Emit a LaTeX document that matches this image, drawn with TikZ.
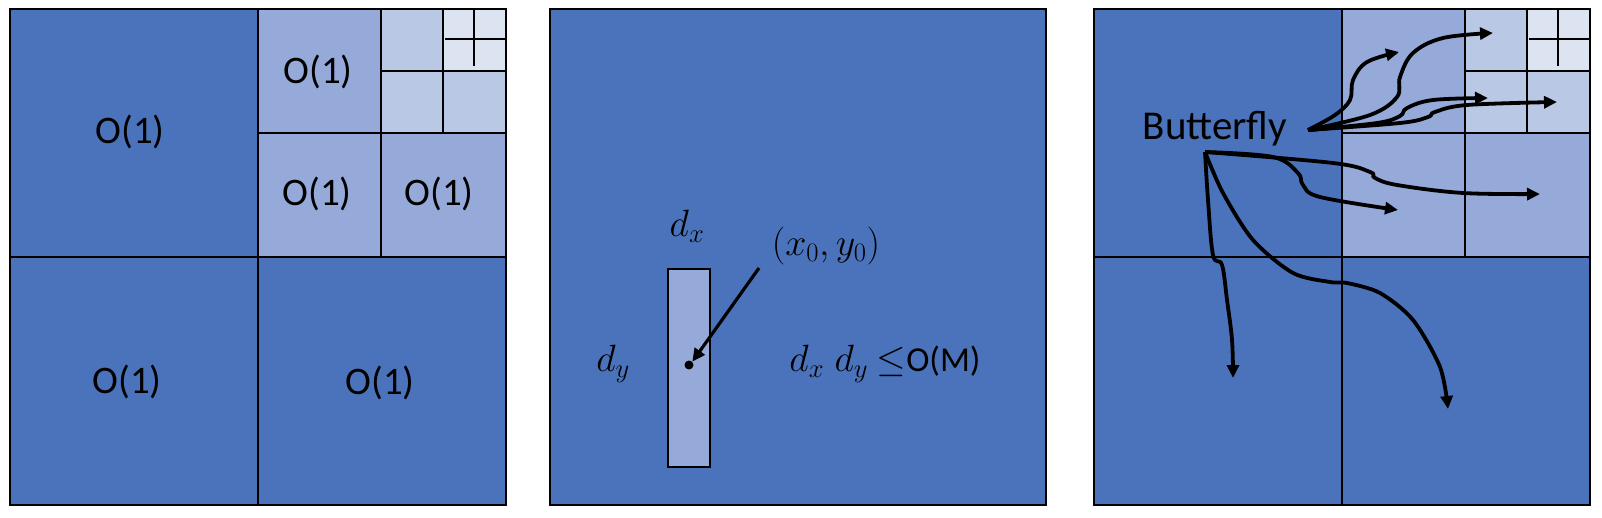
\RequirePackage{fix-cm}
\documentclass[tikz,border=0pt]{standalone}
\usepackage{fontspec}
\setmainfont{Carlito}
\usetikzlibrary{arrows.meta}
\definecolor{dk}{HTML}{4B73BB}
\definecolor{lt}{HTML}{95AAD8}
\definecolor{lt2}{HTML}{B9C8E5}
\definecolor{lt3}{HTML}{DCE4F2}
\tikzset{
  frame/.style={draw=black,line width=2.5pt},
  grid/.style={draw=black,line width=1.5pt},
  lbl/.style={font=\fontsize{39}{39}\selectfont,inner sep=0pt},
  mlbl/.style={font=\fontsize{38}{38}\selectfont,inner sep=0pt},
  arr/.style={line width=3.8pt,-{Triangle[length=13pt,width=12pt]}},
}
\newcommand{\quadtree}{%
  \fill[dk] (10,9) rectangle (506,505);
  \fill[lt] (258,9) rectangle (506,257);
  \fill[lt2] (381,9) rectangle (506,133);
  \fill[lt3] (443,9) rectangle (506,71);
  \draw[grid] (258,9)--(258,505);
  \draw[grid] (10,257)--(506,257);
  \draw[grid] (381,9)--(381,257);
  \draw[grid] (258,133)--(506,133);
  \draw[grid] (443,9)--(443,133);
  \draw[grid] (381,71)--(506,71);
  \draw[grid] (474,9)--(474,66);
  \draw[grid] (445,39)--(506,39);
  \draw[frame] (10,9) rectangle (506,505);
}
\begin{document}
\begin{tikzpicture}[x=1pt,y=-1pt]
\useasboundingbox (0,0) rectangle (1602,518);
\fill[white] (0,0) rectangle (1602,518);
% panel 1
\quadtree
\node[lbl] (a1) at (130,132) {O(1)};
\node[lbl] (a2) at (318,72) {O(1)};
\node[lbl] (a3) at (317,194) {O(1)};
\node[lbl] (a4) at (439,194) {O(1)};
\node[lbl] (a5) at (127,382) {O(1)};
\node[lbl] (a6) at (380,383) {O(1)};
% panel 2
\draw[frame,fill=dk] (550,9) rectangle (1046,505);
\node[draw=black,line width=1.5pt,fill=lt,minimum width=42pt,minimum height=198pt,inner sep=0pt] (rect) at (689,368) {};
\node[circle,fill=black,inner sep=0pt,minimum size=9pt] (dot) at (689,365) {};
\node[mlbl] (dx) at (687,226) {$d_x$};
\node[mlbl] (dy) at (613,364) {$d_y$};
\node[mlbl] (xy) at (826,246) {$(x_0,y_0)$};
\node[mlbl] (cond) at (885,364) {$d_x\;d_y$ $\leq$\fontsize{35}{35}\selectfont O(M)};
\coordinate (xyarr) at (759,268);
\draw[line width=3.2pt,-{Triangle[length=13pt,width=12pt]}] (xyarr) -- (dot.north east);
% panel 3
\begin{scope}[xshift=1084pt]
\quadtree
\end{scope}
\node[lbl,font=\fontsize{41}{41}\selectfont] (bf) at (1215,129) {Butterfly};
\coordinate (bu) at (1308,130);
\coordinate (bl) at (1205,152);
\draw[line width=4pt] (bu) -- (1340,127);
\draw[arr] plot[smooth,tension=0.6] coordinates {(bu) (1335,115) (1350,100) (1353,80) (1367,62) (1399,52)};
\draw[arr] plot[smooth,tension=0.6] coordinates {(bu) (1370,115) (1397,97) (1400,77) (1413,53) (1443,38) (1493,33)};
\draw[arr] plot[smooth,tension=0.6] coordinates {(bu) (1377,123) (1400,116) (1407,108) (1433,100) (1488,98)};
\draw[arr] plot[smooth,tension=0.6] coordinates {(bu) (1400,123) (1428,117) (1435,112) (1467,105) (1557,102)};
\draw[arr] plot[smooth,tension=0.6] coordinates {(bl) (1273,157) (1298,173) (1303,185) (1320,197) (1398,210)};
\draw[arr] plot[smooth,tension=0.6] coordinates {(bl) (1333,163) (1370,172) (1375,178) (1397,185) (1463,193) (1540,194)};
\draw[arr] plot[smooth,tension=0.6] coordinates {(bl) (1208,200) (1213,255) (1222,265) (1227,300) (1232,340) (1233,378)};
\draw[arr] plot[smooth,tension=0.5] coordinates {(bl) (1223,193) (1253,240) (1293,273) (1330,282) (1347,283) (1380,293) (1413,320) (1440,367) (1448,409)};
\end{tikzpicture}
\end{document}
